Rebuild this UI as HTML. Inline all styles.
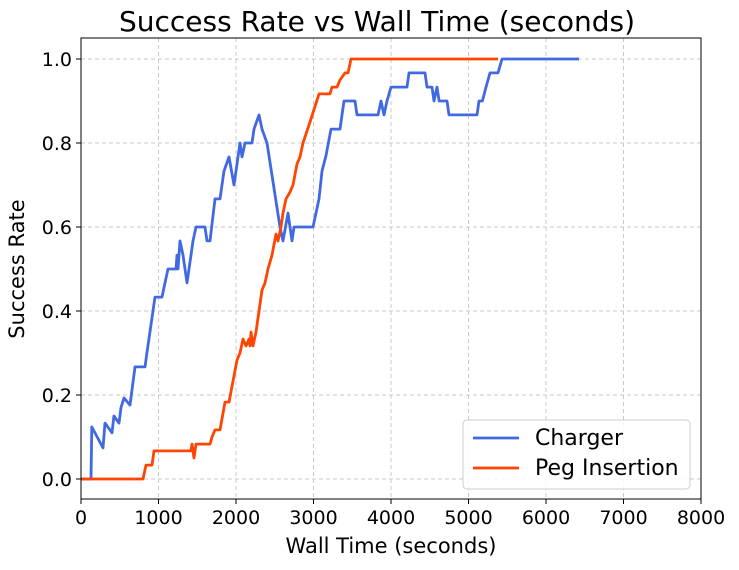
<!DOCTYPE html>
<html><head><meta charset="utf-8"><style>
body{margin:0;background:#fff;font-family:"Liberation Sans","DejaVu Sans",sans-serif;}
svg text{font-family:"DejaVu Sans","Liberation Sans",sans-serif;fill:#000;}
</style></head><body>
<svg id="chart" width="739" height="565" viewBox="0 0 739 565"></svg>
<script>
const xTicks=[0,1000,2000,3000,4000,5000,6000,7000,8000];
const yTicks=[0.0,0.2,0.4,0.6,0.8,1.0];
const yTickLabels=["0.0","0.2","0.4","0.6","0.8","1.0"];
const chargerT=[0,129,140,284,310,400,425,490,516,555,632,697,826,850,955,1045,1084,1123,1226,1239,1252,1277,1316,1368,1419,1445,1484,1600,1626,1665,1729,1794,1845,1910,1974,2052,2077,2116,2206,2232,2297,2335,2400,2568,2606,2671,2723,2748,2994,3032,3071,3110,3161,3226,3342,3394,3535,3561,3832,3871,3910,3948,4000,4206,4232,4439,4465,4529,4555,4594,4620,4723,4748,5110,5135,5180,5226,5277,5381,5432,6426];
const chargerV=[0,0,0.124,0.074,0.133,0.11,0.15,0.133,0.17,0.193,0.176,0.267,0.267,0.3,0.433,0.433,0.467,0.5,0.5,0.533,0.5,0.567,0.533,0.467,0.533,0.567,0.6,0.6,0.567,0.567,0.667,0.667,0.733,0.767,0.7,0.8,0.767,0.8,0.8,0.833,0.867,0.833,0.8,0.6,0.567,0.633,0.567,0.6,0.6,0.633,0.667,0.733,0.77,0.833,0.833,0.9,0.9,0.867,0.867,0.9,0.867,0.9,0.933,0.933,0.967,0.967,0.933,0.933,0.9,0.933,0.9,0.9,0.867,0.867,0.9,0.9,0.933,0.967,0.967,1.0,1.0];
const pegT=[0,800,839,916,942,1419,1432,1458,1484,1665,1690,1729,1794,1858,1910,1961,2013,2052,2090,2129,2168,2181,2194,2219,2258,2297,2335,2374,2413,2465,2516,2542,2581,2606,2645,2697,2735,2787,2826,2865,2955,3071,3213,3239,3303,3342,3406,3445,3484,5381];
const pegV=[0,0,0.033,0.033,0.067,0.067,0.083,0.05,0.083,0.083,0.1,0.117,0.117,0.183,0.183,0.233,0.283,0.3,0.333,0.317,0.333,0.317,0.35,0.317,0.35,0.4,0.45,0.467,0.5,0.533,0.583,0.567,0.6,0.633,0.667,0.683,0.7,0.75,0.767,0.8,0.85,0.917,0.917,0.933,0.933,0.95,0.967,0.967,1.0,1.0];
const L=81,R=701,T=38,B=499;
const xs=t=>L+(t/8000)*(R-L);
const ys=v=>479-v*420;
const svg=document.getElementById('chart');
const NS='http://www.w3.org/2000/svg';
function mk(tag,attrs,parent){const e=document.createElementNS(NS,tag);for(const k in attrs)e.setAttribute(k,attrs[k]);(parent||svg).appendChild(e);return e;}
xTicks.forEach(t=>{const g=mk('line',{x1:xs(t),x2:xs(t),y1:T,y2:B,stroke:'#c8c8c8','stroke-dasharray':'4,3','stroke-width':1});

});
yTicks.forEach(v=>{const g=mk('line',{x1:L,x2:R,y1:ys(v),y2:ys(v),stroke:'#c8c8c8','stroke-dasharray':'4,3','stroke-width':1});

});
function series(T_,V_,color,name){const d=T_.map((t,i)=>(i?'L':'M')+xs(t).toFixed(1)+','+ys(V_[i]).toFixed(1)).join(' ');
const p=mk('path',{d:d,fill:'none',stroke:color,'stroke-width':2.8,'stroke-linejoin':'round'});

}
series(chargerT,chargerV,'#4169e1','charger-line');
series(pegT,pegV,'#ff4500','peg-insertion-line');
const fr=mk('rect',{x:L,y:T,width:R-L,height:B-T,fill:'none',stroke:'#000','stroke-width':1});


xTicks.forEach(t=>{mk('line',{x1:xs(t),x2:xs(t),y1:B,y2:B+5,stroke:'#000'});
const tx=mk('text',{x:xs(t),y:B+25,'text-anchor':'middle','font-size':19});tx.textContent=String(t);

});
yTicks.forEach((v,i)=>{mk('line',{x1:L-5,x2:L,y1:ys(v),y2:ys(v),stroke:'#000'});
const tx=mk('text',{x:L-9,y:ys(v)+7,'text-anchor':'end','font-size':19});tx.textContent=yTickLabels[i];

});
</script>
<svg style="position:absolute;left:0;top:0" width="739" height="565">
<text x="377" y="31" text-anchor="middle" font-size="28" font-family="DejaVu Sans, sans-serif">Success Rate vs Wall Time (seconds)</text>
<text x="391" y="553" text-anchor="middle" font-size="21" font-family="DejaVu Sans, sans-serif">Wall Time (seconds)</text>
<text transform="translate(24,269) rotate(-90)" text-anchor="middle" font-size="21" font-family="DejaVu Sans, sans-serif">Success Rate</text>
<g>
<rect x="463" y="420" width="227" height="69" rx="4" fill="#fff" fill-opacity="0.85" stroke="#ccc"/>
<line x1="473" x2="519" y1="438" y2="438" stroke="#4169e1" stroke-width="2.8"/>
<text x="535" y="445" font-size="22" font-family="DejaVu Sans, sans-serif">Charger</text>
<line x1="473" x2="519" y1="468" y2="468" stroke="#ff4500" stroke-width="2.8"/>
<text x="535" y="475" font-size="22" font-family="DejaVu Sans, sans-serif">Peg Insertion</text>
</g>
</svg>
</body></html>
